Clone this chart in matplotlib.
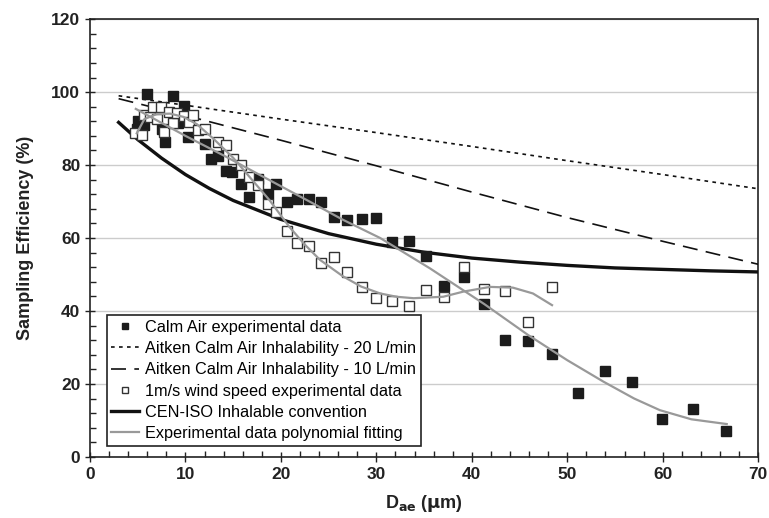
import matplotlib
matplotlib.use("Agg")
import matplotlib.pyplot as plt
from matplotlib.ticker import MultipleLocator

plt.rcParams["font.family"] = ["Liberation Sans", "DejaVu Sans"]

# ── data ───────────────────────────────────────────────────────────────────
calm_x = [4.9, 5.0, 5.7, 6.0, 7.5, 7.9, 8.7, 9.2, 9.8, 10.3, 12.1, 12.7, 13.4,
          14.2, 14.9, 15.8, 16.7, 17.6, 18.6, 19.5, 20.6, 21.7, 22.9, 24.2,
          25.6, 26.9, 28.5, 30.0, 31.6, 33.4, 35.2, 37.1, 39.2, 41.3, 43.5,
          45.9, 48.4, 51.1, 53.9, 56.8, 59.9, 63.2, 66.6]
calm_y = [90.0, 92.1, 91.0, 99.5, 90.0, 86.4, 99.0, 91.4, 96.2, 87.6, 85.9,
          81.8, 82.5, 78.4, 78.2, 74.7, 71.3, 76.3, 72.0, 74.8, 69.8, 70.6,
          70.7, 70.0, 65.8, 64.9, 65.3, 65.5, 59.0, 59.3, 55.1, 46.9, 49.4,
          41.9, 32.1, 31.8, 28.2, 17.5, 23.6, 20.5, 10.5, 13.2, 7.1]

wind_x = [4.7, 5.4, 5.7, 6.3, 6.6, 7.0, 7.4, 7.8, 8.3, 8.7, 9.1, 9.8, 10.4,
          10.8, 11.3, 12.0, 13.4, 14.2, 15.0, 15.8, 16.7, 17.6, 18.6, 19.5,
          20.6, 21.7, 22.9, 24.2, 25.6, 26.9, 28.5, 30.0, 31.6, 33.4, 35.2,
          37.1, 39.2, 41.3, 43.5, 45.9, 48.4]
wind_y = [88.7, 88.2, 93.7, 93.2, 96.0, 92.6, 96.0, 89.1, 94.6, 91.4, 94.3,
          93.4, 91.9, 93.7, 89.6, 89.8, 86.4, 85.5, 81.6, 80.0, 76.6, 74.4,
          69.3, 67.2, 62.0, 58.7, 57.9, 53.1, 54.7, 50.6, 46.7, 43.6, 42.8,
          41.4, 45.8, 43.9, 52.0, 45.9, 45.6, 36.9, 46.7]

# polynomial fits (as drawn in the reference)
fit_calm_x = [4.8, 10.0, 14.1, 18.0, 23.0, 26.5, 30.4, 35.6, 41.3, 45.9,
              50.0, 53.8, 57.0, 59.7, 63.0, 66.7]
fit_calm_y = [95.4, 88.0, 82.5, 77.0, 70.0, 65.0, 60.0, 51.7, 41.9, 33.4,
              26.5, 20.6, 16.0, 12.8, 10.3, 9.0]
fit_wind_x = [4.9, 5.7, 7.0, 8.4, 9.8, 11.2, 12.9, 15.0, 16.7, 18.8, 20.9,
              22.5, 24.1, 26.5, 28.4, 30.4, 32.1, 33.9, 37.0, 39.1, 41.9,
              44.3, 46.4, 48.4]
fit_wind_y = [88.7, 92.6, 94.0, 94.1, 93.2, 91.2, 87.3, 82.0, 76.8, 70.4,
              63.0, 58.2, 54.0, 49.5, 46.7, 44.8, 43.9, 43.5, 43.9, 45.3,
              46.6, 46.4, 44.8, 41.6]

# reference curves
cen_x = [3, 5, 7.5, 10, 12.5, 15, 20, 25, 30, 35, 40, 45, 50, 55, 60, 65, 70]
cen_y = [91.7, 87.0, 81.9, 77.4, 73.6, 70.3, 65.1, 61.2, 58.3, 56.1, 54.5,
         53.4, 52.5, 51.8, 51.4, 51.0, 50.7]
aitken20_x = [3, 10, 20, 30, 40, 50, 60, 70]
aitken20_y = [99.0, 96.4, 92.6, 88.9, 85.1, 81.2, 77.4, 73.5]
aitken10_x = [3, 10, 20, 30, 40, 50, 60, 70]
aitken10_y = [98.2, 93.6, 86.8, 79.8, 72.6, 65.6, 59.1, 52.8]


fig = plt.figure(figsize=(7.69, 5.18), dpi=100)
ax = fig.add_axes([0.117, 0.118, 0.869, 0.845])

ax.plot(cen_x, cen_y, color="#111111", lw=2.4, zorder=3,
        label="CEN-ISO Inhalable convention")
ax.plot(aitken20_x, aitken20_y, color="#111111", lw=1.2, dashes=(2.2, 2.6),
        zorder=3, label="Aitken Calm Air Inhalability - 20 L/min")
ax.plot(aitken10_x, aitken10_y, color="#111111", lw=1.2, dashes=(9, 5),
        zorder=3, label="Aitken Calm Air Inhalability - 10 L/min")

ax.plot(calm_x, calm_y, ls="none", marker="s", ms=6.5, mfc="#1c1c1c",
        mec="#1c1c1c", zorder=4, label="Calm Air experimental data")
ax.plot(wind_x, wind_y, ls="none", marker="s", ms=6.5, mfc="white",
        mec="#333333", mew=1.0, zorder=5,
        label="1m/s wind speed experimental data")

ax.plot(fit_calm_x, fit_calm_y, color="#999999", lw=1.6, zorder=6,
        label="Experimental data polynomial fitting")
ax.plot(fit_wind_x, fit_wind_y, color="#999999", lw=1.6, zorder=6)

ax.set_xlim(0, 70)
ax.set_ylim(0, 120)
ax.xaxis.set_major_locator(MultipleLocator(10))
ax.xaxis.set_minor_locator(MultipleLocator(2))
ax.yaxis.set_major_locator(MultipleLocator(20))
ax.yaxis.set_minor_locator(MultipleLocator(4))
ax.tick_params(which="major", direction="inout", length=7, width=1,
               labelsize=12.5, color="#222222")
ax.tick_params(which="minor", direction="in", length=4, width=1,
               color="#222222")
for lab in ax.get_xticklabels() + ax.get_yticklabels():
    lab.set_fontweight("bold")
    lab.set_color("#222222")

ax.grid(axis="y", which="major", color="#cccccc", lw=1)
ax.set_axisbelow(True)
for sp in ax.spines.values():
    sp.set_color("#222222")
    sp.set_linewidth(1.2)

ax.set_xlabel(r"D$_{\mathbf{ae}}$ ($\mathbf{\mu}$m)", fontsize=13,
              fontweight="bold", color="#222222", labelpad=8)
ax.set_ylabel("Sampling Efficiency (%)", fontsize=13, fontweight="bold",
              color="#222222", labelpad=12)

handles, labels = ax.get_legend_handles_labels()
order = ["Calm Air experimental data",
         "Aitken Calm Air Inhalability - 20 L/min",
         "Aitken Calm Air Inhalability - 10 L/min",
         "1m/s wind speed experimental data",
         "CEN-ISO Inhalable convention",
         "Experimental data polynomial fitting"]
hmap = dict(zip(labels, handles))
leg = ax.legend([hmap[k] for k in order], order, loc="lower left",
                bbox_to_anchor=(0.02, 0.018), fontsize=11.7, frameon=True,
                fancybox=False, edgecolor="#222222", framealpha=1,
                handlelength=1.7, handletextpad=0.35, borderpad=0.3,
                labelspacing=0.38, markerscale=0.7, borderaxespad=0.2)
leg.get_frame().set_linewidth(1.2)

fig.savefig("out.png", dpi=100)
